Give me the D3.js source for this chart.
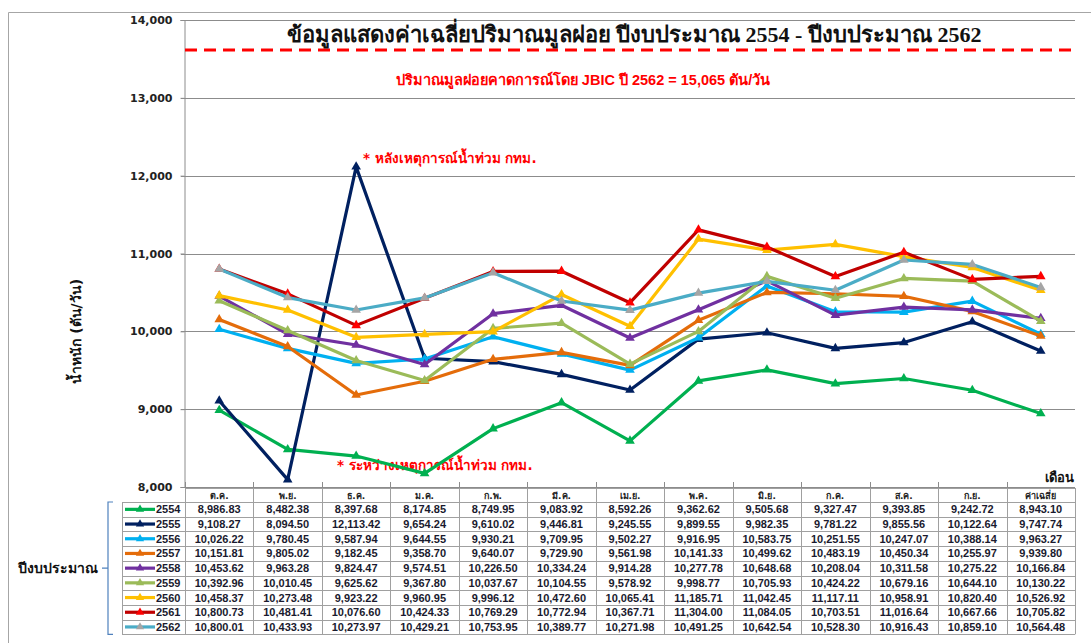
<!DOCTYPE html>
<html>
<head>
<meta charset="utf-8">
<script src="https://cdn.jsdelivr.net/npm/d3@7"></script>
<style>
  body { margin: 0; background: #fff; }
  svg { display: block; }
  text { font-family: Tahoma, "DejaVu Sans", "Noto Sans", sans-serif; }
</style>
</head>
<body>
<div id="content"></div>
<script>
const months = ["ต.ค.", "พ.ย.", "ธ.ค.", "ม.ค.", "ก.พ.", "มี.ค.", "เม.ย.", "พ.ค.", "มิ.ย.", "ก.ค.", "ส.ค.", "ก.ย.", "ค่าเฉลี่ย"];
const years = ["2554", "2555", "2556", "2557", "2558", "2559", "2560", "2561", "2562"];
const line_colors = ["#00b050", "#002060", "#00b0f0", "#e46c0a", "#7030a0", "#9bbb59", "#ffc000", "#c00000", "#4bacc6"];
const marker_colors = ["#00b050", "#002060", "#00b0f0", "#e46c0a", "#7030a0", "#9bbb59", "#ffc000", "#ff0000", "#a5a5a5"];

const v2554 = [8986.83, 8482.38, 8397.68, 8174.85, 8749.95, 9083.92, 8592.26, 9362.62, 9505.68, 9327.47, 9393.85, 9242.72, 8943.10];
const v2555 = [9108.27, 8094.50, 12113.42, 9654.24, 9610.02, 9446.81, 9245.55, 9899.55, 9982.35, 9781.22, 9855.56, 10122.64, 9747.74];
const v2556 = [10026.22, 9780.45, 9587.94, 9644.55, 9930.21, 9709.95, 9502.27, 9916.95, 10583.75, 10251.55, 10247.07, 10388.14, 9963.27];
const v2557 = [10151.81, 9805.02, 9182.45, 9358.70, 9640.07, 9729.90, 9561.98, 10141.33, 10499.62, 10483.19, 10450.34, 10255.97, 9939.80];
const v2558 = [10453.62, 9963.28, 9824.47, 9574.51, 10226.50, 10334.24, 9914.28, 10277.78, 10648.68, 10208.04, 10311.58, 10275.22, 10166.84];
const v2559 = [10392.96, 10010.45, 9625.62, 9367.80, 10037.67, 10104.55, 9578.92, 9998.77, 10705.93, 10424.22, 10679.16, 10644.10, 10130.22];
const v2560 = [10458.37, 10273.48, 9923.22, 9960.95, 9996.12, 10472.60, 10065.41, 11185.71, 11042.45, 11117.11, 10958.91, 10820.40, 10526.92];
const v2561 = [10800.73, 10481.41, 10076.60, 10424.33, 10769.29, 10772.94, 10367.71, 11304.00, 11084.05, 10703.51, 11016.64, 10667.66, 10705.82];
const v2562 = [10800.01, 10433.93, 10273.97, 10429.21, 10753.95, 10389.77, 10271.98, 10491.25, 10642.54, 10528.30, 10916.43, 10859.10, 10564.48];
const series_values = [v2554, v2555, v2556, v2557, v2558, v2559, v2560, v2561, v2562];

const y_ticks = [8000, 9000, 10000, 11000, 12000, 13000, 14000];
const jbic_line = 13615;

const chart_title = "ข้อมูลแสดงค่าเฉลี่ยปริมาณมูลฝอย ปีงบประมาณ 2554 - ปีงบประมาณ 2562";
const jbic_text = "ปริมาณมูลฝอยคาดการณ์โดย JBIC ปี 2562 =  15,065  ตัน/วัน";
const note_after = "* หลังเหตุการณ์น้ำท่วม กทม.";
const note_during = "* ระหว่างเหตุการณ์น้ำท่วม กทม.";

const width = 1091, height = 643;
const left = 185, right = 1075, top_y = 20, bottom_y = 487;
const row_h = 14.7, head_h = 14, legend_left = 122;

const svg = d3.select("#content")
    .append("svg")
    .attr("width", width)
    .attr("height", height);

// outer chart border (only left and top visible)
svg.append("path")
    .attr("d", "M8.5," + (height + 5) + "V12.5H" + (width + 5))
    .attr("fill", "none")
    .attr("stroke", "#a6a6a6")
    .attr("stroke-width", 1);

const x = d3.scaleBand().domain(months).range([left, right]);
const y = d3.scaleLinear().domain([8000, 14000]).range([bottom_y, top_y]);

// gridlines
svg.append("g")
    .selectAll("line")
    .data(y_ticks)
    .join("line")
    .attr("x1", left - 4)
    .attr("x2", right)
    .attr("y1", d => Math.round(y(d)) + 0.5)
    .attr("y2", d => Math.round(y(d)) + 0.5)
    .attr("stroke", "#8c8c8c")
    .attr("stroke-width", 1);

// y axis
const y_axis = svg.append("g")
    .attr("transform", "translate(" + (left - 0.5) + ",0)")
    .call(d3.axisLeft(y).tickValues(y_ticks).tickSize(4).tickPadding(8).tickFormat(d3.format(",")));
y_axis.select(".domain").attr("stroke", "#8c8c8c");
y_axis.selectAll(".tick line").attr("stroke", "#8c8c8c");
y_axis.selectAll("text")
    .style("font-size", "11px")
    .style("font-weight", "bold")
    .attr("fill", "#222");

svg.append("text")
    .attr("transform", "translate(81," + (y(10000)) + ") rotate(-90)")
    .attr("text-anchor", "middle")
    .style("font-size", "14px")
    .style("font-weight", "bold")
    .attr("fill", "#111")
    .text("น้ำหนัก (ตัน/วัน)");

// red dashed JBIC line
svg.append("line")
    .attr("x1", left)
    .attr("x2", right)
    .attr("y1", y(jbic_line))
    .attr("y2", y(jbic_line))
    .attr("stroke", "#ff0000")
    .attr("stroke-width", 3)
    .attr("stroke-dasharray", "12,7");

svg.append("text")
    .attr("x", 634)
    .attr("y", 42)
    .attr("text-anchor", "middle")
    .style("font-family", "'Liberation Serif', 'DejaVu Serif', serif")
    .style("font-size", "22px")
    .style("font-weight", "bold")
    .attr("fill", "#111")
    .text(chart_title);

svg.append("text")
    .attr("x", 583)
    .attr("y", 85)
    .attr("text-anchor", "middle")
    .style("font-family", "'Liberation Sans Narrow', 'Liberation Sans', sans-serif")
    .style("font-size", "14.5px")
    .style("font-weight", "bold")
    .attr("fill", "#ff0000")
    .text(jbic_text);

svg.append("text")
    .attr("x", 363)
    .attr("y", 163)
    .style("font-size", "13.5px")
    .style("font-weight", "bold")
    .attr("fill", "#ff0000")
    .text(note_after);

svg.append("text")
    .attr("x", 337)
    .attr("y", 470)
    .style("font-size", "13.5px")
    .style("font-weight", "bold")
    .attr("fill", "#ff0000")
    .text(note_during);

svg.append("text")
    .attr("x", right - 1)
    .attr("y", 482)
    .attr("text-anchor", "end")
    .style("font-size", "13px")
    .style("font-weight", "bold")
    .attr("fill", "#111")
    .text("เดือน");

// series lines
const line = d3.line()
    .x((d, i) => x(months[i]) + x.bandwidth() / 2)
    .y(d => y(d));

const triangle = d3.symbol().type(d3.symbolTriangle).size(40);

years.forEach(function (yr, s) {
    const g = svg.append("g").attr("class", "s" + yr);
    g.append("path")
        .datum(series_values[s])
        .attr("d", line)
        .attr("fill", "none")
        .attr("stroke", line_colors[s])
        .attr("stroke-width", 3.2)
        .attr("stroke-linejoin", "round");
    g.selectAll("path.mk")
        .data(series_values[s])
        .join("path")
        .attr("class", "mk")
        .attr("d", triangle)
        .attr("transform", (d, i) => "translate(" + (x(months[i]) + x.bandwidth() / 2) + "," + y(d) + ")")
        .attr("fill", marker_colors[s]);
});

// category boundary ticks above the table
svg.append("g")
    .selectAll("line")
    .data(months)
    .join("line")
    .attr("x1", d => Math.round(x(d)) + 0.5)
    .attr("x2", d => Math.round(x(d)) + 0.5)
    .attr("y1", bottom_y - 5)
    .attr("y2", bottom_y)
    .attr("stroke", "#8c8c8c");

// data table
const table = svg.append("g");
const tbl_top = bottom_y + 1;
const tbl_bottom = tbl_top + head_h + row_h * years.length;
const fmt = d3.format(",.2f");

// header cells
table.selectAll("text.hd")
    .data(months)
    .join("text")
    .attr("class", "hd")
    .attr("x", d => x(d) + x.bandwidth() / 2)
    .attr("y", tbl_top + head_h / 2 + 4)
    .attr("text-anchor", "middle")
    .style("font-size", "9px")
    .style("font-weight", "bold")
    .attr("fill", "#222")
    .text(d => d);

years.forEach(function (yr, s) {
    const ry = tbl_top + head_h + row_h * s;
    const row = table.append("g");
    row.selectAll("text")
        .data(series_values[s])
        .join("text")
        .attr("x", (d, i) => x(months[i]) + x.bandwidth() / 2)
        .attr("y", ry + row_h / 2 + 4)
        .attr("text-anchor", "middle")
        .style("font-family", "'Liberation Sans', Arial, sans-serif")
        .style("font-size", "11px")
        .style("font-weight", "bold")
        .attr("fill", "#1a1a2e")
        .text(d => fmt(d));
    // legend key
    row.append("line")
        .attr("x1", legend_left + 3)
        .attr("x2", legend_left + 33)
        .attr("y1", ry + row_h / 2)
        .attr("y2", ry + row_h / 2)
        .attr("stroke", line_colors[s])
        .attr("stroke-width", 3.2);
    row.append("path")
        .attr("d", d3.symbol().type(d3.symbolTriangle).size(30))
        .attr("transform", "translate(" + (legend_left + 18) + "," + (ry + row_h / 2) + ")")
        .attr("fill", marker_colors[s]);
    row.append("text")
        .attr("x", legend_left + 34)
        .attr("y", ry + row_h / 2 + 4)
        .style("font-family", "'Liberation Sans', Arial, sans-serif")
        .style("font-size", "11px")
        .style("font-weight", "bold")
        .attr("fill", "#1a1a2e")
        .text(yr);
});

// table grid lines
const h_lines = [tbl_top + head_h].concat(years.map((d, i) => tbl_top + head_h + row_h * (i + 1)));
table.append("g")
    .selectAll("line")
    .data(h_lines)
    .join("line")
    .attr("x1", legend_left)
    .attr("x2", right)
    .attr("y1", d => Math.round(d) + 0.5)
    .attr("y2", d => Math.round(d) + 0.5)
    .attr("stroke", "#a0a0a0");
table.append("line")
    .attr("x1", left)
    .attr("x2", right)
    .attr("y1", tbl_top + 0.5)
    .attr("y2", tbl_top + 0.5)
    .attr("stroke", "#a0a0a0");
table.append("g")
    .selectAll("line")
    .data(months.concat(["end"]))
    .join("line")
    .attr("x1", d => Math.round(d === "end" ? right : x(d)) + 0.5)
    .attr("x2", d => Math.round(d === "end" ? right : x(d)) + 0.5)
    .attr("y1", tbl_top)
    .attr("y2", tbl_bottom)
    .attr("stroke", "#a0a0a0");
table.append("line")
    .attr("x1", legend_left + 0.5)
    .attr("x2", legend_left + 0.5)
    .attr("y1", tbl_top + head_h)
    .attr("y2", tbl_bottom)
    .attr("stroke", "#a0a0a0");

// x axis line on top of table
svg.append("line")
    .attr("x1", left)
    .attr("x2", right)
    .attr("y1", bottom_y + 0.5)
    .attr("y2", bottom_y + 0.5)
    .attr("stroke", "#8c8c8c");

// bracket with year group label
const br_top = tbl_top + head_h, br_mid = (br_top + tbl_bottom) / 2;
svg.append("path")
    .attr("d", "M113," + br_top + "H108V" + tbl_bottom + "H113M108," + br_mid + "H102")
    .attr("fill", "none")
    .attr("stroke", "#4f81bd")
    .attr("stroke-width", 1.2);

svg.append("text")
    .attr("x", 18)
    .attr("y", br_mid + 5)
    .style("font-size", "14px")
    .style("font-weight", "bold")
    .attr("fill", "#111")
    .text("ปีงบประมาณ");
</script>
</body>
</html>
